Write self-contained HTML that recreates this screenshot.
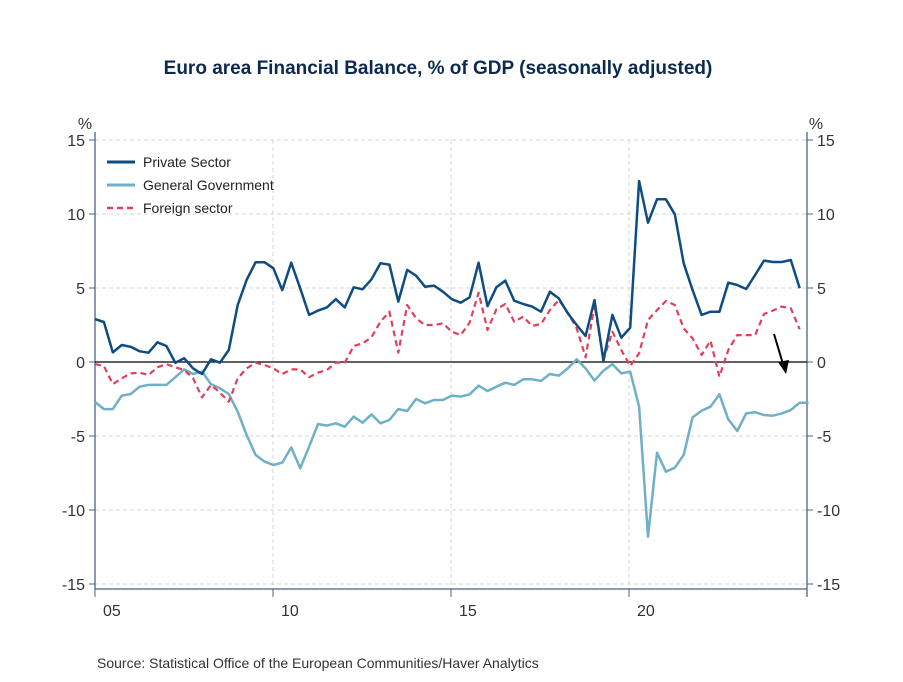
<!DOCTYPE html>
<html><head><meta charset="utf-8"><style>
body{margin:0;background:#fff;font-family:"Liberation Sans",sans-serif;}
svg text{font-family:"Liberation Sans",sans-serif;}
</style></head><body>
<svg id="chart" width="903" height="677" viewBox="0 0 903 677" xmlns="http://www.w3.org/2000/svg">
<rect width="903" height="677" fill="#fff"/>
<text x="438" y="74" text-anchor="middle" font-size="19" font-weight="bold" fill="#0d2a4e">Euro area Financial Balance, % of GDP (seasonally adjusted)</text>
<g id="grid"></g>
<g id="axes"></g>
<g id="series"></g>
<g>
<line x1="107" y1="162" x2="135" y2="162" stroke="#0f4c81" stroke-width="3"/>
<text x="143" y="167" font-size="14" fill="#222">Private Sector</text>
<line x1="107" y1="185" x2="135" y2="185" stroke="#6fb0c8" stroke-width="3"/>
<text x="143" y="190" font-size="14" fill="#222">General Government</text>
<line x1="107" y1="208" x2="135" y2="208" stroke="#e0405a" stroke-width="2.5" stroke-dasharray="6,4"/>
<text x="143" y="213" font-size="14" fill="#222">Foreign sector</text>
</g>
<g>
<line x1="774" y1="334" x2="783" y2="364" stroke="#000" stroke-width="2"/>
<polygon points="778,362 789,360 786,374" fill="#000"/>
</g>
<text x="97" y="668" font-size="14" fill="#333">Source:  Statistical Office of the European Communities/Haver Analytics</text>
</svg>
<script>
const yTicks=[15,10,5,0,-5,-10,-15];
const xTickYears=[2005,2010,2015,2020];
const xTickLabels=["05","10","15","20"];
const privateSector=[2.9,2.7,0.65,1.15,1.03,0.72,0.63,1.33,1.08,-0.05,0.25,-0.43,-0.81,0.18,-0.05,0.81,3.85,5.54,6.74,6.74,6.33,4.86,6.71,4.98,3.18,3.47,3.69,4.24,3.69,5.05,4.91,5.59,6.67,6.58,4.08,6.22,5.83,5.09,5.16,4.75,4.24,4.01,4.37,6.71,3.78,5.05,5.5,4.14,3.92,3.74,3.4,4.75,4.3,3.29,2.5,1.76,4.19,0.09,3.18,1.64,2.32,12.23,9.41,10.99,10.99,9.98,6.67,4.86,3.18,3.4,3.4,5.36,5.2,4.93,5.88,6.85,6.76,6.76,6.89,4.98];
const generalGovernment=[-2.7,-3.18,-3.18,-2.27,-2.16,-1.67,-1.55,-1.55,-1.55,-1.03,-0.5,-0.81,-0.65,-1.49,-1.78,-2.16,-3.36,-4.93,-6.28,-6.73,-6.96,-6.8,-5.77,-7.18,-5.72,-4.19,-4.3,-4.14,-4.37,-3.69,-4.1,-3.54,-4.14,-3.92,-3.18,-3.31,-2.5,-2.79,-2.57,-2.57,-2.27,-2.34,-2.18,-1.6,-1.96,-1.67,-1.4,-1.55,-1.17,-1.17,-1.28,-0.81,-0.92,-0.43,0.18,-0.43,-1.26,-0.59,-0.14,-0.77,-0.65,-3.02,-11.8,-6.13,-7.41,-7.14,-6.28,-3.74,-3.29,-3.02,-2.18,-3.87,-4.66,-3.47,-3.4,-3.58,-3.63,-3.47,-3.24,-2.75,-2.75];
const foreignSector=[-0.14,-0.27,-1.49,-1.1,-0.77,-0.72,-0.88,-0.36,-0.14,-0.36,-0.54,-1.1,-2.39,-1.55,-2.07,-2.68,-1.1,-0.43,-0.05,-0.2,-0.43,-0.81,-0.5,-0.5,-1.03,-0.72,-0.54,-0.05,-0.05,1.08,1.26,1.67,2.72,3.4,0.63,3.85,2.95,2.5,2.5,2.61,2.05,1.82,2.66,4.68,2.16,3.56,3.92,2.72,3.06,2.43,2.57,3.51,4.19,3.33,2.27,0.31,3.85,0.14,2.05,0.81,-0.27,0.59,2.84,3.51,4.12,3.85,2.27,1.6,0.47,1.44,-0.99,0.81,1.82,1.82,1.82,3.24,3.47,3.74,3.63,2.21];
const NS="http://www.w3.org/2000/svg";
const L=95,R=807,T=140,B=589;
const y=v=>362-v*14.8;
const xYear=t=>L+(t-2005)*(R-L)/20;
const xIdx=i=>L+i*8.92;
function mk(tag,attrs,parent){const e=document.createElementNS(NS,tag);for(const k in attrs)e.setAttribute(k,attrs[k]);parent.appendChild(e);return e;}
const grid=document.getElementById('grid'),axes=document.getElementById('axes'),ser=document.getElementById('series');
yTicks.forEach(v=>{
 if(v!==0){const g=mk('line',{x1:L,x2:R,y1:y(v),y2:y(v),stroke:'#d4d4d4','stroke-dasharray':'4,3'},grid);
 
 }
 mk('line',{x1:L-6,x2:L,y1:y(v),y2:y(v),stroke:'#4a6580'},axes);
 mk('line',{x1:R,x2:R+6,y1:y(v),y2:y(v),stroke:'#4a6580'},axes);
 const a=mk('text',{x:L-10,y:y(v)+6,'text-anchor':'end','font-size':16,fill:'#333'},axes);a.textContent=v;
 
 
 const b=mk('text',{x:R+10,y:y(v)+6,'font-size':16,fill:'#333'},axes);b.textContent=v;
 
 
});
xTickYears.forEach((t,i)=>{
 const xx=xYear(t);
 if(i>0){const g=mk('line',{x1:xx,x2:xx,y1:T,y2:B,stroke:'#d4d4d4','stroke-dasharray':'4,3'},grid);
 
 }
 mk('line',{x1:xx,x2:xx,y1:B,y2:B+8,stroke:'#4a6580'},axes);
 const tx=mk('text',{x:xx+8,y:B+27,'font-size':16,fill:'#333'},axes);tx.textContent=xTickLabels[i];
 
 
});
mk('line',{x1:L,x2:L,y1:T-8,y2:B,stroke:'#4a6580','stroke-width':1.3},axes);
mk('line',{x1:R,x2:R,y1:T-8,y2:B+8,stroke:'#4a6580','stroke-width':1.3},axes);
mk('line',{x1:L,x2:R,y1:B,y2:B,stroke:'#4a6580','stroke-width':1.3},axes);
const p1=mk('text',{x:85,y:129,'font-size':16,fill:'#333','text-anchor':'middle'},axes);p1.textContent='%';


const p2=mk('text',{x:816,y:129,'font-size':16,fill:'#333','text-anchor':'middle'},axes);p2.textContent='%';


const z=mk('line',{x1:L,x2:R,y1:y(0),y2:y(0),stroke:'#000','stroke-width':1.3},axes);


function line(data,color,w,dash,name){
 const pts=data.map((v,i)=>xIdx(i).toFixed(1)+','+y(v).toFixed(1)).join(' ');
 const e=mk('polyline',{points:pts,fill:'none',stroke:color,'stroke-width':w,'stroke-linejoin':'round'},ser);
 if(dash)e.setAttribute('stroke-dasharray',dash);
 
 
}
line(generalGovernment,'#6fb0c8',2.5,null,'general-government-line');
line(foreignSector,'#e0405a',2.2,'6,4','foreign-sector-line');
line(privateSector,'#0f4c81',2.5,null,'private-sector-line');
</script>
</body></html>
